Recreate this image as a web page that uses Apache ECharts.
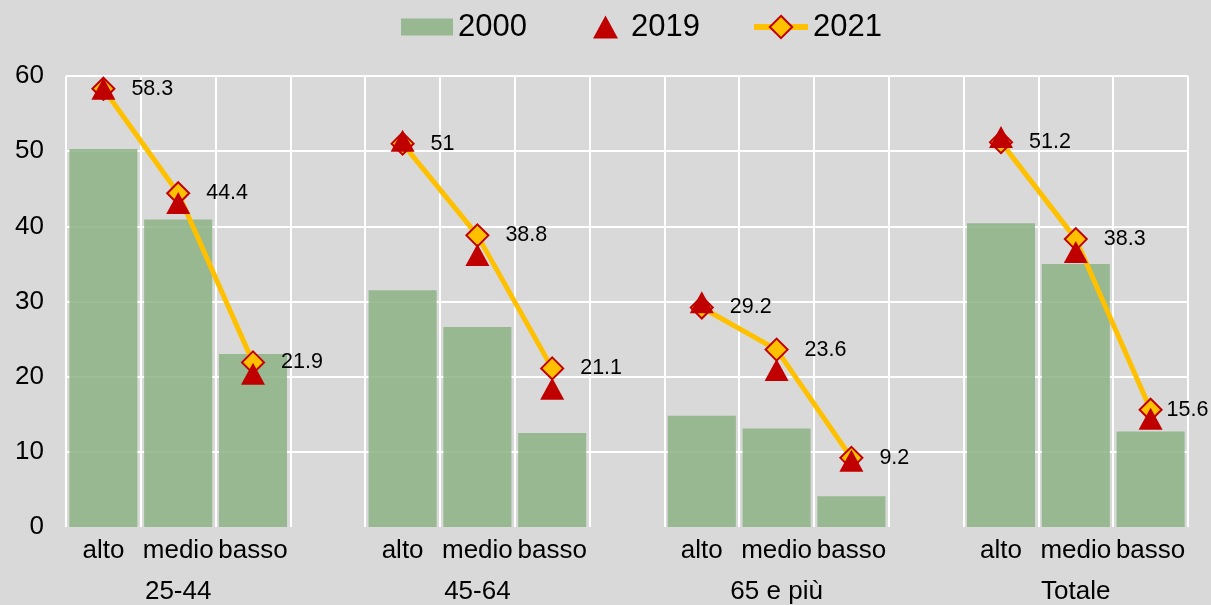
<!DOCTYPE html>
<html>
<head>
<meta charset="utf-8">
<script src="https://cdn.jsdelivr.net/npm/echarts@6/dist/echarts.min.js"></script>
<style>
html,body{margin:0;padding:0;background:#d9d9d9;}
#chart{width:1211px;height:605px;}
</style>
</head>
<body>
<div id="chart"></div>
<script>
const categories = ['alto','medio','basso','','alto','medio','basso','','alto','medio','basso','','alto','medio','basso'];
const groupLabels = ['','25-44','','','','45-64','','','','65 e più','','','','Totale',''];
const yTicks = [0,10,20,30,40,50,60];
const s2000 = [50.3,40.9,23.0,null,31.5,26.6,12.5,null,14.8,13.1,4.1,null,40.4,35.0,12.7];
const s2019 = [58.3,43.1,20.4,null,51.4,36.2,18.4,null,29.9,20.9,8.8,null,51.9,36.6,14.4];
const s2021 = [58.3,44.4,21.9,null,51,38.8,21.1,null,29.2,23.6,9.2,null,51.2,38.3,15.6];

const FONT = "'Liberation Sans', Arial, sans-serif";
const chart = echarts.init(document.getElementById('chart'));
const legendText = {fontSize:31, color:'#000', fontFamily:FONT, lineHeight:34};
const lineData = s2021.map((v, i) => (i === s2021.length - 1 && v !== null)
  ? {value: v, label: {distance: 4}} : v);
chart.setOption({
  backgroundColor:'#d9d9d9',
  animation:false,
  legend:[
    {data:[{name:'2000',icon:'rect'}], left:396, top:5, itemWidth:52, itemHeight:17, textStyle:legendText},
    {data:[{name:'2019',icon:'triangle'}], left:588, top:5, itemWidth:25, itemHeight:23, textStyle:Object.assign({},legendText,{padding:[0,0,0,8]})},
    {data:[{name:'2021'}], left:746, top:5, itemWidth:54, itemHeight:28, textStyle:legendText,
     lineStyle:{width:6}}
  ],
  grid:{left:66, right:23, top:76, bottom:76, containLabel:false},
  xAxis:[
    {type:'category', data:categories, boundaryGap:true,
     axisLine:{show:false}, axisTick:{show:false},
     axisLabel:{interval:0, fontSize:26, color:'#000', fontFamily:FONT, margin:11},
     splitLine:{show:true, interval:0, lineStyle:{color:'#fff', width:2}}},
    {type:'category', data:groupLabels, position:'bottom', offset:43, boundaryGap:true,
     axisLine:{show:false}, axisTick:{show:false}, splitLine:{show:false},
     axisLabel:{interval:0, fontSize:26, color:'#000', fontFamily:FONT, margin:9}}
  ],
  yAxis:{type:'value', min:yTicks[0], max:yTicks[yTicks.length-1], interval:10,
     axisLine:{show:false}, axisTick:{show:false},
     axisLabel:{fontSize:26, color:'#000', fontFamily:FONT, margin:22},
     splitLine:{show:true, lineStyle:{color:['rgba(0,0,0,0)','#fff','#fff','#fff','#fff','#fff','#fff'], width:2}}},
  series:[
    {name:'2000', type:'bar', data:s2000, barCategoryGap:'9%',
     itemStyle:{color:'rgba(139,178,132,0.85)'}, z:2},
    {name:'2021', type:'line', data:lineData, connectNulls:false,
     symbol:'diamond', symbolSize:22,
     lineStyle:{color:'#FFC000', width:5},
     itemStyle:{color:'#FFC000', borderColor:'#C00000', borderWidth:2},
     label:{show:true, position:'right', distance:16, fontSize:21.5, color:'#000', fontFamily:FONT},
     z:3},
    {name:'2019', type:'scatter', data:s2019, symbol:'triangle', symbolSize:[24,22],
     itemStyle:{color:'#C00000', opacity:1}, z:4}
  ]
});
</script>
</body>
</html>
